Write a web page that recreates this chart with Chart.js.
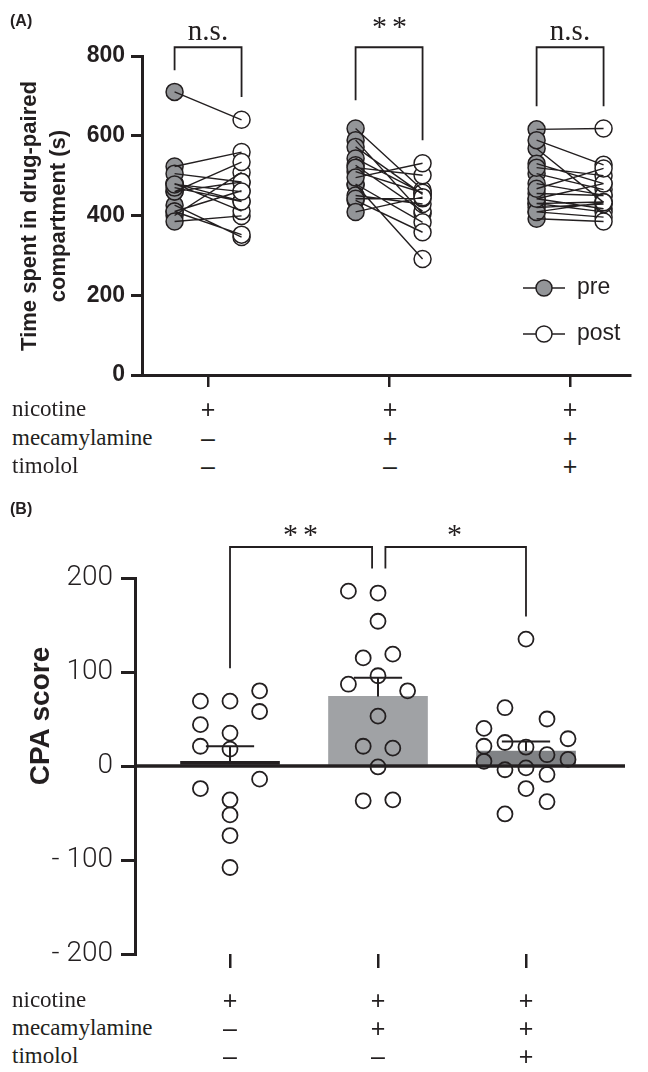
<!DOCTYPE html>
<html>
<head>
<meta charset="utf-8">
<script src="https://cdn.jsdelivr.net/npm/chart.js@4.4.1/dist/chart.umd.min.js"></script>
<style>
  body { margin: 0; background: #fff; width: 648px; height: 1072px; position: relative; overflow: hidden; }
  .wrap { position: absolute; left: 0; width: 648px; }
  .t { position: absolute; white-space: nowrap; color: #231f20; line-height: 1; }
  .panel { font: bold 16px "Liberation Sans", Arial, sans-serif; }
  .row { font: 23px "Liberation Serif", "Times New Roman", serif; transform: translateY(-50%); }
  .sign { font: 25px "Liberation Sans", Arial, sans-serif; transform: translate(-50%, -50%); }
  .sig { font: 29px "Liberation Serif", "Times New Roman", serif; transform: translate(-50%, -50%); }
  .star { font: 30px "Liberation Serif", "Times New Roman", serif; letter-spacing: 5px; transform: translate(-50%, -50%); }
  .rot { transform: translate(-50%, -50%) rotate(-90deg); text-align: center; }
</style>
</head>
<body>
<div class="wrap" style="top:0;height:400px"><canvas id="chartA"></canvas></div>
<div class="wrap" style="top:500px;height:490px"><canvas id="chartB"></canvas></div>
<div id="texts"></div>
<script>
// ---- panel A: time spent in drug-paired compartment (s), pre vs post
const preNic  = [710, 523, 426, 410, 400, 460, 410, 460, 385, 480, 480, 470, 505, 478];
const postNic = [640, 559, 346, 352, 508, 534, 462, 484, 399, 411, 436, 435, 484, 460];
const preMec  = [618, 589, 572, 477, 543, 526, 479, 438, 510, 450, 520, 442, 495, 409];
const postMec = [464, 405, 453, 291, 456, 411, 383, 358, 457, 429, 501, 443, 531, 446];
const preTim  = [616, 568, 589, 530, 505, 480, 442, 430, 520, 409, 392, 455, 430, 420, 409, 442, 467];
const postTim = [618, 433, 527, 480, 465, 451, 417, 409, 500, 396, 385, 450, 434, 429, 433, 480, 518];
const ticksA = [0, 200, 400, 600, 800];
const sigA = ['n.s.', '**', 'n.s.'];

// ---- panel B: CPA score
const cpaNic = [69, 44, 21, -24, 69, 35, 18, -36, -52, -74, -108, 80, 58, -14];
const colNic = [-1, -1, -1, -1, 0, 0, 0, 0, 0, 0, 0, 1, 1, 1];
const cpaMec = [186, 184, 154, 115, 119, 96, 87, 80, 53, 21, 19, -1, -37, -36];
const colMec = [-2, 0, 0, -1, 1, 0, -2, 2, 0, -1, 1, 0, -1, 1];
const cpaTim = [135, 62, 50, 40, 29, 21, 25, 20, 12, 5, 7, -4, -2, -9, -24, -38, -51];
const colTim = [0, -1, 1, -2, 2, -2, -1, 0, 1, -2, 2, -1, 0, 1, 0, 1, -1];
const barMeans = [5, 74, 16];
const barSems = [16, 20, 10];
const ticksB = [-200, -100, 0, 100, 200];
const sigB = ['**', '*'];

// ---- treatment table
const treatments = ['nicotine', 'mecamylamine', 'timolol'];
const signs = [['+', '–', '–'], ['+', '+', '–'], ['+', '+', '+']]; // per group

const ink = '#231f20';
const gap = g => ({x: g, y: null});

// panel A data
const groupsA = [[preNic, postNic], [preMec, postMec], [preTim, postTim]];
const dx = 0.185;
const lineDataA = groupsA.flatMap(([pre, post], i) =>
  pre.flatMap((v, j) => [{x: i + 1 - dx, y: v}, {x: i + 1 + dx, y: post[j]}, gap(i + 1)]));
const preDataA = groupsA.flatMap(([pre], i) => pre.map(v => ({x: i + 1 - dx, y: v})));
const postDataA = groupsA.flatMap(([, post], i) => post.map(v => ({x: i + 1 + dx, y: v})));

// significance brackets A: top, left leg end, right leg end
const bracketTopA = 822;
const bracketLegsA = [[764, 697], [689, 589], [674, 674]];
const bracketDataA = bracketLegsA.flatMap(([l, r], i) => [
  {x: i + 1 - dx, y: l}, {x: i + 1 - dx, y: bracketTopA},
  {x: i + 1 + dx, y: bracketTopA}, {x: i + 1 + dx, y: r}, gap(i + 1)]);

const legendA = {
  id: 'legendA',
  afterDraw(chart) {
    const c = chart.ctx;
    const rows = [[chart.data.datasets[0], 288], [chart.data.datasets[1], 334]];
    rows.forEach(([ds, y]) => {
      c.save();
      c.strokeStyle = ink;
      c.lineWidth = 1.5;
      c.beginPath(); c.moveTo(523, y); c.lineTo(565, y); c.stroke();
      c.beginPath(); c.arc(544, y, 8, 0, Math.PI * 2);
      c.fillStyle = ds.backgroundColor; c.fill(); c.stroke();
      c.fillStyle = ink;
      c.font = '23px "Liberation Sans", Arial, sans-serif';
      c.textBaseline = 'middle';
      c.fillText(ds.label, 577, y);
      c.restore();
    });
  }
};

new Chart(document.getElementById('chartA'), {
  type: 'scatter',
  data: {
    datasets: [
      {label: 'pre', data: preDataA, backgroundColor: '#939598', borderColor: ink, borderWidth: 1.5,
       pointRadius: 8.5, order: 3},
      {label: 'post', data: postDataA, backgroundColor: '#ffffff', borderColor: ink, borderWidth: 1.5,
       pointRadius: 8.5, order: 2},
      {label: 'pairs', data: lineDataA, showLine: true, pointRadius: 0, borderColor: ink, borderWidth: 1.4,
       order: 1},
      {label: 'brackets', data: bracketDataA, showLine: true, pointRadius: 0, borderColor: ink, borderWidth: 1.8,
       clip: false, order: 0}
    ]
  },
  options: {
    responsive: true,
    maintainAspectRatio: false,
    animation: false,
    layout: {padding: {top: 56, right: 18, left: 0, bottom: 0}},
    plugins: {legend: {display: false}, tooltip: {enabled: false}},
    scales: {
      x: {
        type: 'linear', min: 0.635, max: 3.331, offset: false,
        afterBuildTicks: s => { s.ticks = [1, 2, 3].map(v => ({value: v})); },
        afterFit: s => { s.height = 25; },
        ticks: {callback: () => ''},
        grid: {offset: false, drawOnChartArea: false, drawTicks: true, tickLength: 12, color: ink, lineWidth: 2.5},
        border: {display: true, color: ink, width: 3}
      },
      y: {
        min: 0, max: 800,
        afterBuildTicks: s => { s.ticks = ticksA.map(v => ({value: v})); },
        afterFit: s => { s.width = 142; },
        ticks: {color: ink, padding: 6, font: {family: '"Liberation Sans", Arial, sans-serif', size: 23, weight: 'bold'}},
        grid: {drawOnChartArea: false, drawTicks: true, tickLength: 11, color: ink, lineWidth: 3},
        border: {display: true, color: ink, width: 3}
      }
    }
  },
  plugins: [legendA]
});

// panel B data
const groupsB = [[cpaNic, colNic], [cpaMec, colMec], [cpaTim, colTim]];
const colStep = [0.2, 0.1, 0.142];
const pointsB = groupsB.flatMap(([vals, cols], i) => vals.map((v, j) => ({x: i + 1 + cols[j] * colStep[i], y: v})));
const barsB = barMeans.map((m, i) => ({x: i + 1, y: m}));
const cap = 0.163;
const errB = barMeans.flatMap((m, i) => {
  const top = m + barSems[i];
  return [{x: i + 1, y: m}, {x: i + 1, y: top}, gap(i + 1), {x: i + 1 - cap, y: top}, {x: i + 1 + cap, y: top}, gap(i + 1)];
});
const xMinB = 0.358, xMaxB = 3.669;
const zeroB = [{x: xMinB, y: 0}, {x: xMaxB, y: 0}];
const bracketTopB = 233;
const bracketDataB = [
  {x: 1, y: 104}, {x: 1, y: bracketTopB}, {x: 1.96, y: bracketTopB}, {x: 1.96, y: 210}, gap(2),
  {x: 2.05, y: 210}, {x: 2.05, y: bracketTopB}, {x: 3, y: bracketTopB}, {x: 3, y: 159}
];

new Chart(document.getElementById('chartB'), {
  data: {
    datasets: [
      {type: 'scatter', label: 'CPA', data: pointsB, backgroundColor: 'rgba(0,0,0,0)', borderColor: ink,
       borderWidth: 1.8, pointRadius: 7.5, order: 1},
      {type: 'scatter', label: 'sem', data: errB, showLine: true, pointRadius: 0, borderColor: ink,
       borderWidth: 2, order: 2},
      {type: 'scatter', label: 'zero', data: zeroB, showLine: true, pointRadius: 0, borderColor: ink,
       borderWidth: 3.5, clip: false, order: 3},
      {type: 'bar', label: 'mean', data: barsB, backgroundColor: [ink, '#a0a2a5', '#808285'],
       barThickness: 99, order: 4},
      {type: 'scatter', label: 'brackets', data: bracketDataB, showLine: true, pointRadius: 0,
       borderColor: ink, borderWidth: 1.8, clip: false, order: 0}
    ]
  },
  options: {
    responsive: true,
    maintainAspectRatio: false,
    animation: false,
    layout: {padding: {top: 78, right: 23, left: 0, bottom: 0}},
    plugins: {legend: {display: false}, tooltip: {enabled: false}},
    scales: {
      x: {
        type: 'linear', min: xMinB, max: xMaxB, offset: false,
        afterBuildTicks: s => { s.ticks = [1, 2, 3].map(v => ({value: v})); },
        afterFit: s => { s.height = 36; },
        ticks: {callback: () => ''},
        grid: {offset: false, drawOnChartArea: false, drawTicks: true, tickLength: 14, color: ink, lineWidth: 2.5},
        border: {display: false}
      },
      y: {
        min: -200, max: 200,
        afterBuildTicks: s => { s.ticks = ticksB.map(v => ({value: v})); },
        afterFit: s => { s.width = 135; },
        ticks: {
          color: ink, padding: 8,
          font: {family: 'Roboto, "Liberation Sans", sans-serif', size: 28, weight: '300'},
          callback: v => v < 0 ? '- ' + Math.abs(v) : String(v)
        },
        grid: {drawOnChartArea: false, drawTicks: true, tickLength: 14, color: ink, lineWidth: 3},
        border: {display: true, color: ink, width: 3}
      }
    }
  }
});

// text overlays
const texts = document.getElementById('texts');
function addText(cls, str, x, y, extra) {
  const d = document.createElement('div');
  d.className = 't ' + cls;
  d.textContent = str;
  d.style.left = x + 'px';
  d.style.top = y + 'px';
  if (extra) Object.assign(d.style, extra);
  texts.appendChild(d);
  return d;
}
addText('panel', '(A)', 10, 12);
addText('panel', '(B)', 10, 500);

const titleA = addText('rot', '', 43, 216, {font: 'bold 22px "Liberation Sans", Arial, sans-serif', lineHeight: '29px'});
titleA.innerHTML = 'Time spent in drug-paired<br>compartment (s)';
addText('rot', 'CPA score', 40, 716, {font: 'bold 28px "Liberation Sans", Arial, sans-serif'});

const sigXA = [208, 390, 570];
const sigYA = [30, 26, 30];
sigA.forEach((s, i) => addText(s === 'n.s.' ? 'sig' : 'star', s, sigXA[i] + (s === 'n.s.' ? 0 : 2), sigYA[i]));
addText('star', sigB[0], 303, 534);
addText('star', sigB[1], 457, 534);

const rowYA = [409, 438, 466];
const rowYB = [1000, 1028, 1056];
const colXA = [208, 390, 570];
const colXB = [230, 378, 526];
treatments.forEach((name, r) => {
  addText('row', name, 12, rowYA[r]);
  addText('row', name, 12, rowYB[r]);
  signs.forEach((g, c) => {
    addText('sign', g[r], colXA[c], rowYA[r]);
    addText('sign', g[r], colXB[c], rowYB[r]);
  });
});
</script>
</body>
</html>
